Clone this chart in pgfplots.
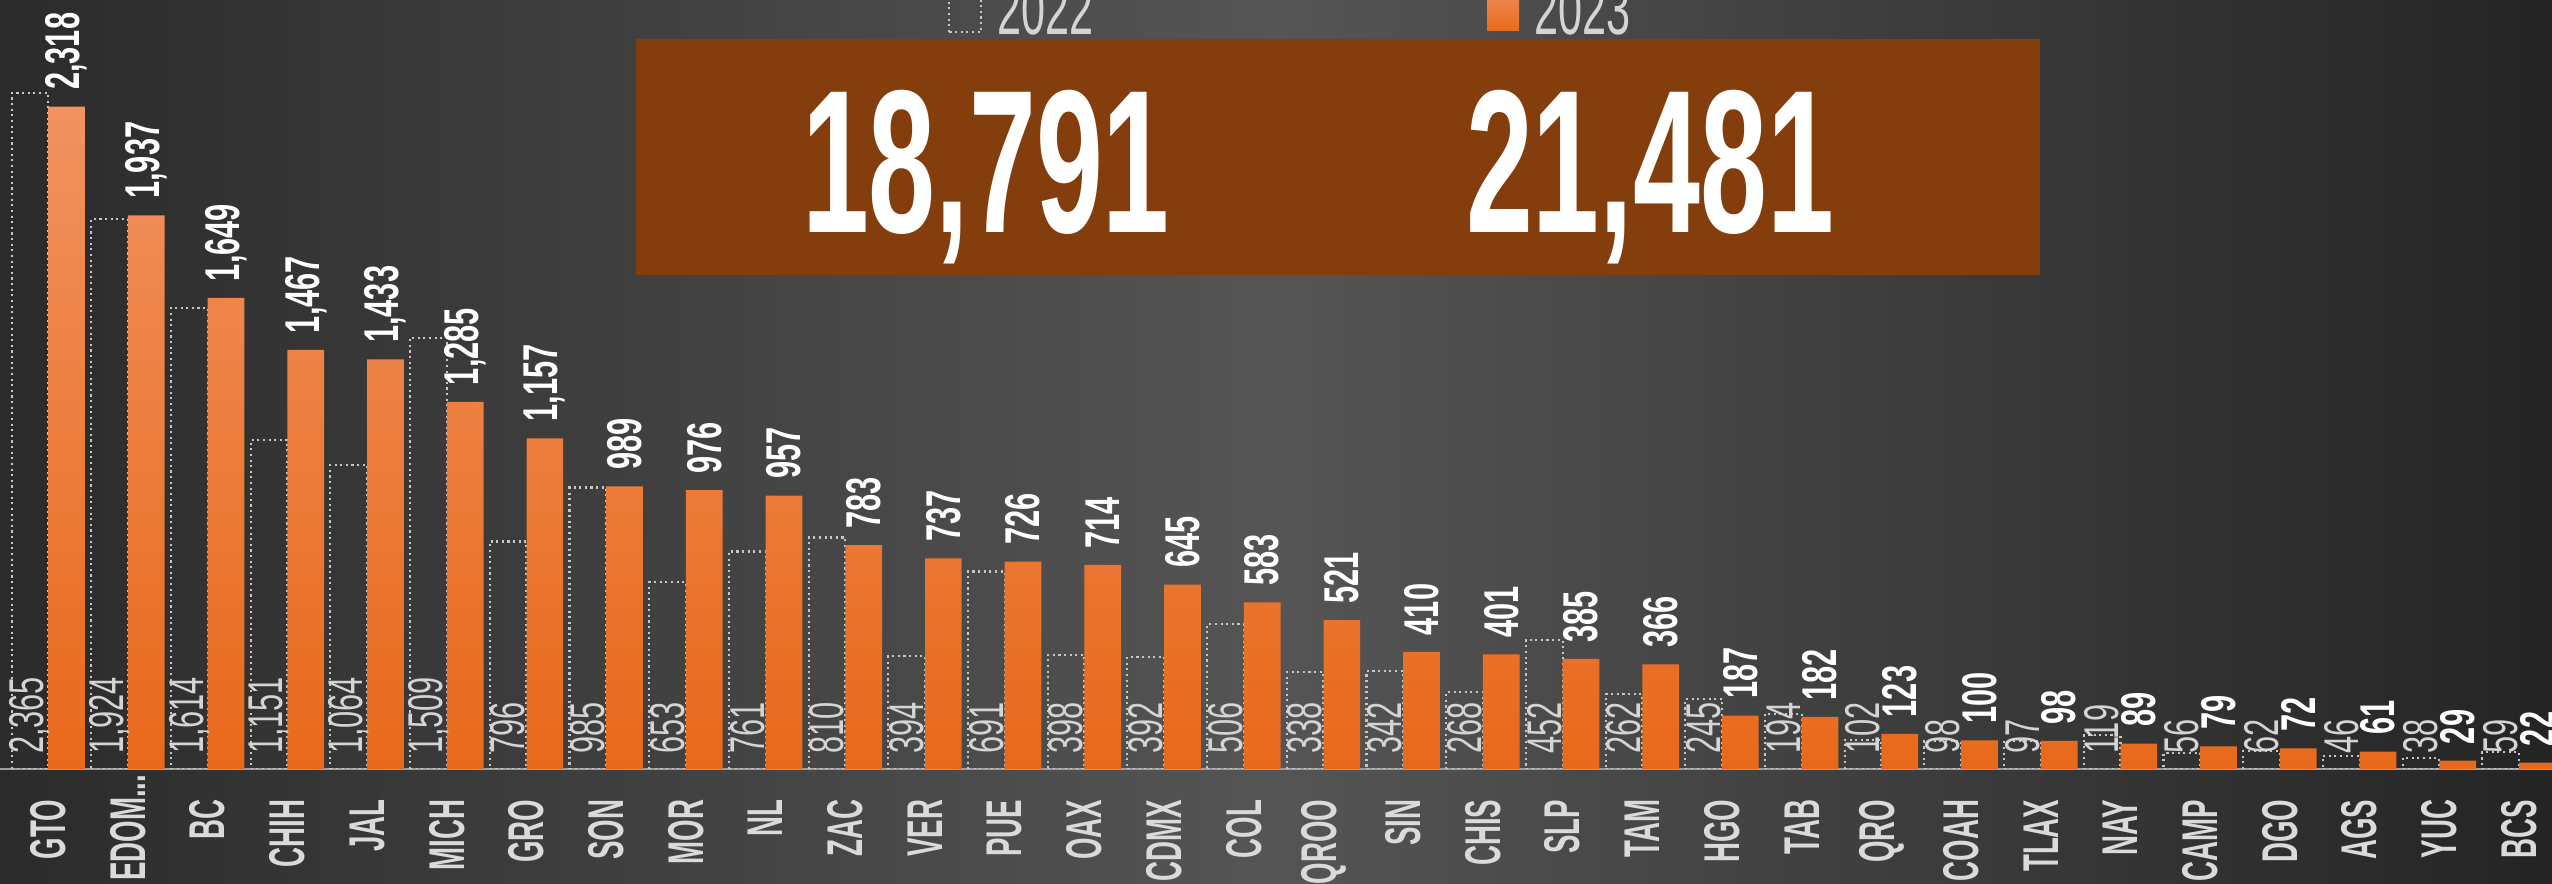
\documentclass[border=0pt]{standalone}
\usepackage{fontspec}
\setmainfont{Liberation Sans}
\newfontfamily\cndA{Liberation Sans}[FakeStretch=0.63]
\newfontfamily\cndT{Liberation Sans}[FakeStretch=0.55]
\newfontfamily\cndL{Liberation Sans}[FakeStretch=0.6]
\newfontfamily\cndB{Liberation Sans}[FakeStretch=0.59]
\usepackage{pgfplots}
\usepackage{pgfplotstable}
\pgfplotsset{compat=1.18}
\definecolor{bgL}{HTML}{2B2B2B}
\definecolor{bgM}{HTML}{555555}
\definecolor{bgR}{HTML}{242424}
\definecolor{orT}{HTML}{F19260}
\definecolor{orB}{HTML}{E8691B}
\definecolor{boxbrown}{HTML}{843D0D}
\definecolor{tickgray}{HTML}{DADADA}
\definecolor{lblgray}{HTML}{D4D4D4}

\pgfplotstableread{
x y22 y23
0 2365 2318
1 1924 1937
2 1614 1649
3 1151 1467
4 1064 1433
5 1509 1285
6 796 1157
7 985 989
8 653 976
9 761 957
10 810 783
11 394 737
12 691 726
13 398 714
14 392 645
15 506 583
16 338 521
17 342 410
18 268 401
19 452 385
20 262 366
21 245 187
22 194 182
23 102 123
24 98 100
25 97 98
26 119 89
27 56 79
28 62 72
29 46 61
30 38 29
31 59 22
}\data

\begin{document}
\begin{tikzpicture}
\path[use as bounding box] (0,0) rectangle (25.52,8.84);
\clip (0,0) rectangle (25.52,8.84);
\shade[left color=bgL, right color=bgR, middle color=bgM] (0,0) rectangle (25.52,8.84);
\begin{axis}[
  at={(0cm,1.15cm)}, anchor=south west,
  scale only axis, width=25.52cm, height=7.69cm,
  xmin=-0.606, xmax=31.414, ymin=0, ymax=2691,
  enlargelimits=false,
  ybar=0pt, bar width=0.367cm,
  axis y line=none,
  axis x line*=bottom,
  x axis line style={-, draw=white!62!black, line width=0.8pt},
  xtick=data,
  xticklabels={GTO,{EDOM.{}.{}.\hspace*{-2.5mm}},BC,CHIH,JAL,MICH,GRO,SON,MOR,NL,ZAC,VER,PUE,OAX,CDMX,COL,QROO,SIN,CHIS,SLP,TAM,HGO,TAB,QRO,COAH,TLAX,NAY,CAMP,DGO,AGS,YUC,BCS},
  major tick length=0pt,
  xticklabel style={rotate=90, anchor=east, inner xsep=3mm, inner ysep=0pt, text=tickgray, font=\cndT\bfseries\fontsize{14.3pt}{15pt}\selectfont},
  /pgf/number format/assume math mode=true,
  /pgf/number format/1000 sep={,},
]
\addplot[draw=white!78!black, densely dotted, line width=0.6pt, fill=none,
  visualization depends on={\thisrow{y22} \as \rawy},
  nodes near coords,
  every node near coord/.append style={yshift={-\rawy*0.0285767mm}, rotate=90, anchor=west, inner xsep=1.4mm, inner ysep=0pt, text=lblgray, solid, font=\cndA\fontsize{13.9pt}{14pt}\selectfont}
] table[x=x, y=y22] {\data};
\addplot[draw=none, top color=orT, bottom color=orB,
  nodes near coords,
  every node near coord/.append style={rotate=90, anchor=west, inner xsep=1.6mm, inner ysep=0pt, text=white, font=\cndA\bfseries\fontsize{13.9pt}{14pt}\selectfont}
] table[x=x, y=y23] {\data};
\end{axis}
% summary box
\fill[boxbrown] (6.36,6.09) rectangle (20.40,8.45);
\node[anchor=base, inner sep=0pt, text=white, font=\cndB\bfseries\fontsize{58pt}{60pt}\selectfont] at (9.86,6.51) {18,791};
\node[anchor=base, inner sep=0pt, text=white, font=\cndB\bfseries\fontsize{58pt}{60pt}\selectfont] at (16.50,6.51) {21,481};
% legend
\draw[white!78!black, densely dotted, line width=0.6pt] (9.49,8.52) rectangle (9.81,9.0);
\node[anchor=base west, inner sep=0pt, text=lblgray, font=\cndL\fontsize{20.5pt}{21pt}\selectfont] at (9.97,8.49) {2022};
\shade[top color=orT, bottom color=orB] (14.87,8.53) rectangle (15.19,9.0);
\node[anchor=base west, inner sep=0pt, text=lblgray, font=\cndL\fontsize{20.5pt}{21pt}\selectfont] at (15.34,8.49) {2023};
\end{tikzpicture}
\end{document}
